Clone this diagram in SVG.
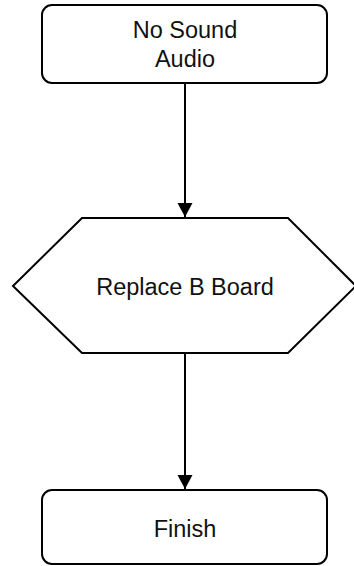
<svg xmlns="http://www.w3.org/2000/svg" width="354" height="566" viewBox="0 0 354 566">
<style>
.box{fill:#fff;stroke:#000;stroke-width:2}
.lbl{font-family:"Liberation Sans",Arial,sans-serif;font-size:23.5px;fill:#111;text-anchor:middle}
.edge{stroke:#000;stroke-width:2;fill:none}
</style>
<defs>
<marker id="arr" markerUnits="userSpaceOnUse" markerWidth="16" markerHeight="16" viewBox="0 0 16 16" refX="14" refY="8" orient="auto">
<path d="M0,0.5 L14,8 L0,15.5 Z" fill="#000"/>
</marker>
</defs>
<rect width="354" height="566" fill="#fff"/>
<g id="connectors">
<path class="edge" d="M185,84 V217" marker-end="url(#arr)"/>
<path class="edge" d="M185,354 V489" marker-end="url(#arr)"/>
</g>
<g id="start">
<rect class="box" x="42" y="5" width="285" height="78" rx="10"/>
<text class="lbl" x="185" y="38">No Sound</text>
<text class="lbl" x="185" y="67">Audio</text>
</g>
<g id="replace">
<polygon class="box" points="13,286 82,218 288,218 356,286 288,353 82,353"/>
<text class="lbl" x="185" y="295">Replace B Board</text>
</g>
<g id="finish">
<rect class="box" x="42" y="490" width="285" height="74" rx="10"/>
<text class="lbl" x="185" y="537">Finish</text>
</g>
</svg>
